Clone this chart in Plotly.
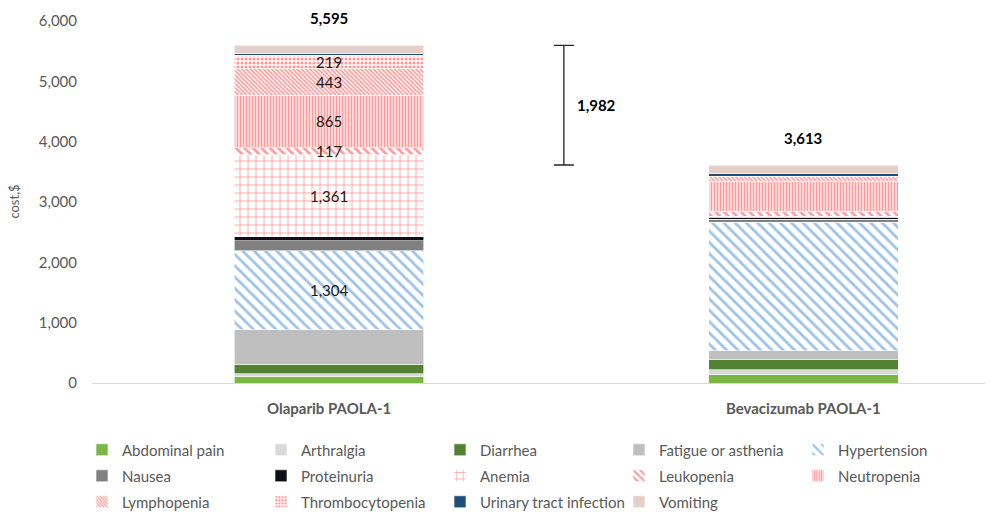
import plotly.graph_objects as go

# Regimens on the x axis
regimens = ["Olaparib PAOLA-1", "Bevacizumab PAOLA-1"]

# Adverse-event cost per regimen ($), stacked bottom to top
abdominal_pain = [110, 140]
arthralgia = [45, 80]
diarrhea = [160, 165]
fatigue_asthenia = [570, 150]
hypertension = [1304, 2130]
nausea = [170, 50]
proteinuria = [65, 35]
anemia = [1361, 10]
leukopenia = [117, 85]
neutropenia = [865, 500]
lymphopenia = [443, 70]
thrombocytopenia = [219, 15]
urinary_tract_infection = [30, 35]
vomiting = [136, 148]

# Segment values printed inside the Olaparib bar
labelled = {"Hypertension", "Anemia", "Leukopenia", "Neutropenia",
            "Lymphopenia", "Thrombocytopenia"}

PINK = "#FF9B9B"


def pattern(shape, fg, size, solidity):
    return dict(color="white", pattern=dict(shape=shape, fgcolor=fg, bgcolor="white",
                                            size=size, solidity=solidity,
                                            fillmode="replace"))


series = [
    ("Abdominal pain", abdominal_pain, dict(color="#7AB843")),
    ("Arthralgia", arthralgia, dict(color="#D9D9D9")),
    ("Diarrhea", diarrhea, dict(color="#548235")),
    ("Fatigue or asthenia", fatigue_asthenia, dict(color="#BFBFBF")),
    ("Hypertension", hypertension, pattern("\\", "#9DC3E6", 8, 0.35)),
    ("Nausea", nausea, dict(color="#808080")),
    ("Proteinuria", proteinuria, dict(color="#0D1117")),
    ("Anemia", anemia, pattern("+", PINK, 8, 0.2)),
    ("Leukopenia", leukopenia, pattern("\\", PINK, 6, 0.45)),
    ("Neutropenia", neutropenia, pattern("|", PINK, 3, 0.6)),
    ("Lymphopenia", lymphopenia, pattern("\\", PINK, 3, 0.55)),
    ("Thrombocytopenia", thrombocytopenia, pattern(".", PINK, 4, 0.5)),
    ("Urinary tract infection", urinary_tract_infection, dict(color="#1F4E79")),
    ("Vomiting", vomiting, dict(color="#E4D0C9")),
]

FONT = "Lato"
GREY = "#595959"
x_pos = list(range(len(regimens)))

fig = go.Figure()
base = [0] * len(regimens)
for i, (name, vals, marker) in enumerate(series):
    marker = dict(marker)
    marker["line"] = dict(color="white", width=0.6)
    legend = "legend" if i < 5 else ("legend2" if i < 10 else "legend3")
    fig.add_trace(go.Bar(x=x_pos, y=vals, name=name, marker=marker, width=0.4,
                         legend=legend))
    if name in labelled:
        # value label centred on the Olaparib segment
        fig.add_annotation(x=0, y=base[0] + vals[0] / 2, text=f"{vals[0]:,}",
                           showarrow=False,
                           font=dict(family=FONT, size=15, color="#1a1a1a"))
    base = [b + v for b, v in zip(base, vals)]

totals = base
gap = totals[0] - totals[1]

# Bracket showing the difference between the two totals
fig.add_trace(go.Scatter(
    x=[0.495], y=[(totals[0] + totals[1]) / 2], mode="markers",
    marker=dict(size=1, color="rgba(0,0,0,0)"), showlegend=False, hoverinfo="skip",
    error_y=dict(type="data", array=[gap / 2], symmetric=True,
                 color="#262626", thickness=1.3, width=10),
))
fig.add_annotation(x=0.518, y=(totals[0] + totals[1]) / 2, text=f"<b>{gap:,}</b>",
                   showarrow=False, xanchor="left",
                   font=dict(family=FONT, size=15, color="#000000"))

for k, tot in enumerate(totals):
    fig.add_annotation(x=k, y=tot, text=f"<b>{tot:,}</b>", showarrow=False,
                       yshift=27, font=dict(family=FONT, size=15, color="#000000"))

fig.add_annotation(xref="paper", yref="paper", x=-0.099, y=0.5, text="cost,$",
                   textangle=-90, showarrow=False,
                   font=dict(family=FONT, size=13, color=GREY))

legend_style = dict(orientation="h", xanchor="left", yanchor="middle",
                    xref="container", yref="container",
                    font=dict(family=FONT, size=15, color=GREY),
                    entrywidth=134, itemwidth=30, bgcolor="rgba(0,0,0,0)",
                    traceorder="normal")
LX = 82 / 990

fig.update_layout(
    width=990, height=517,
    margin=dict(l=92, r=5, t=21, b=134, autoexpand=False),
    paper_bgcolor="white", plot_bgcolor="white",
    barmode="stack",
    font=dict(family=FONT, color=GREY),
    legend=dict(legend_style, x=LX, y=1 - 450 / 517),
    legend2=dict(legend_style, x=LX, y=1 - 476 / 517),
    legend3=dict(legend_style, x=LX, y=1 - 502 / 517),
    xaxis=dict(range=[-0.5, 1.383], tickvals=x_pos, ticktext=regimens,
               tickfont=dict(family=FONT, size=15, color=GREY, weight="bold"),
               showline=True, linecolor="#D9D9D9", linewidth=1,
               showgrid=False, zeroline=False, ticks="", ticklabelstandoff=12),
    yaxis=dict(range=[0, 6000], tickvals=[0, 1000, 2000, 3000, 4000, 5000, 6000],
               tickformat=",", tickfont=dict(family=FONT, size=15, color=GREY),
               showgrid=False, zeroline=False, showline=False, ticks="",
               ticklabelstandoff=14),
)

fig.write_html("out.html")
